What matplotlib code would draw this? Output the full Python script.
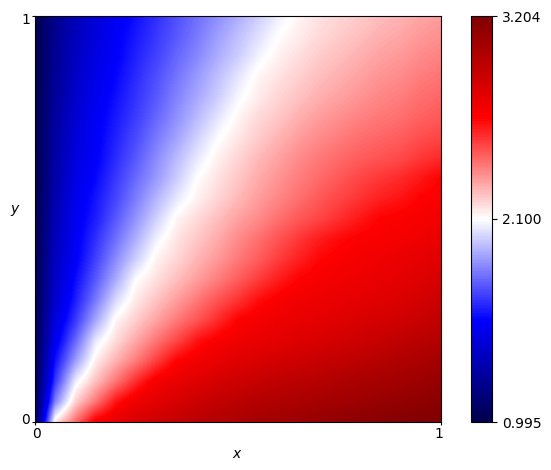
import numpy as np
import matplotlib
matplotlib.use("Agg")
import matplotlib.pyplot as plt
from matplotlib.colors import Normalize
from matplotlib.transforms import Affine2D

cbar_ticks = [0.995, 2.100, 3.204]
cbar_labels = ["0.995", "2.100", "3.204"]

# values at steps of 0.05, top row (y=1) to bottom row (y=0)
values = [
[1.00,1.20,1.33,1.43,1.51,1.58,1.65,1.72,1.79,1.85,1.92,1.99,2.06,2.12,2.16,2.19,2.21,2.24,2.26,2.29,2.31],
[1.00,1.21,1.34,1.44,1.53,1.60,1.67,1.74,1.81,1.89,1.96,2.03,2.10,2.14,2.18,2.21,2.24,2.27,2.29,2.32,2.34],
[1.00,1.22,1.36,1.46,1.54,1.62,1.69,1.77,1.84,1.92,1.99,2.07,2.13,2.17,2.21,2.24,2.27,2.30,2.32,2.35,2.37],
[1.00,1.23,1.37,1.48,1.56,1.64,1.72,1.80,1.88,1.96,2.04,2.12,2.16,2.20,2.24,2.27,2.30,2.33,2.35,2.38,2.40],
[1.00,1.24,1.39,1.50,1.58,1.66,1.74,1.83,1.91,1.99,2.08,2.14,2.19,2.23,2.27,2.30,2.33,2.36,2.38,2.41,2.43],
[1.00,1.25,1.41,1.52,1.60,1.68,1.77,1.86,1.95,2.04,2.12,2.18,2.22,2.27,2.31,2.34,2.37,2.39,2.41,2.44,2.46],
[1.00,1.26,1.43,1.53,1.62,1.71,1.81,1.90,2.00,2.09,2.15,2.21,2.26,2.31,2.35,2.38,2.41,2.43,2.45,2.48,2.50],
[1.00,1.27,1.45,1.54,1.64,1.74,1.85,1.95,2.05,2.13,2.19,2.25,2.30,2.35,2.39,2.42,2.45,2.47,2.49,2.53,2.56],
[1.00,1.28,1.47,1.56,1.67,1.78,1.88,1.99,2.10,2.16,2.22,2.28,2.33,2.38,2.42,2.46,2.50,2.53,2.56,2.60,2.65],
[1.00,1.30,1.49,1.59,1.70,1.82,1.94,2.05,2.13,2.19,2.25,2.31,2.36,2.41,2.46,2.50,2.54,2.58,2.61,2.65,2.67],
[1.00,1.32,1.51,1.61,1.74,1.87,2.00,2.12,2.18,2.24,2.30,2.35,2.41,2.46,2.50,2.55,2.60,2.65,2.66,2.68,2.70],
[1.00,1.34,1.52,1.65,1.79,1.93,2.07,2.16,2.22,2.28,2.35,2.41,2.47,2.53,2.59,2.63,2.66,2.67,2.69,2.71,2.74],
[1.00,1.36,1.53,1.69,1.85,2.00,2.13,2.19,2.26,2.32,2.39,2.45,2.52,2.58,2.64,2.67,2.69,2.71,2.73,2.75,2.78],
[1.00,1.38,1.57,1.74,1.92,2.10,2.17,2.24,2.31,2.38,2.45,2.52,2.59,2.65,2.68,2.70,2.72,2.74,2.76,2.79,2.82],
[1.00,1.40,1.61,1.81,2.02,2.15,2.23,2.31,2.39,2.47,2.54,2.62,2.67,2.70,2.72,2.74,2.76,2.78,2.80,2.83,2.87],
[1.00,1.45,1.67,1.91,2.12,2.21,2.30,2.39,2.47,2.56,2.65,2.69,2.72,2.74,2.76,2.78,2.81,2.83,2.85,2.88,2.92],
[1.00,1.50,1.77,2.05,2.18,2.29,2.40,2.50,2.61,2.67,2.71,2.74,2.76,2.79,2.81,2.84,2.86,2.89,2.92,2.95,2.98],
[1.00,1.58,1.89,2.14,2.27,2.39,2.52,2.65,2.70,2.74,2.78,2.81,2.84,2.86,2.89,2.91,2.94,2.96,2.99,3.01,3.04],
[1.00,1.67,2.06,2.24,2.40,2.56,2.69,2.74,2.78,2.83,2.86,2.89,2.92,2.94,2.96,2.99,3.01,3.03,3.05,3.07,3.10],
[1.00,1.83,2.20,2.40,2.61,2.72,2.77,2.82,2.87,2.91,2.94,2.97,2.99,3.01,3.03,3.05,3.07,3.09,3.11,3.13,3.15],
[1.00,2.15,2.42,2.68,2.76,2.82,2.87,2.91,2.95,2.98,3.01,3.04,3.06,3.08,3.11,3.13,3.15,3.17,3.18,3.19,3.204],
]

W, H = 551, 470
fig = plt.figure(figsize=(W / 100, H / 100), dpi=100)
ax = fig.add_axes([35.0 / W, 48.0 / H, 406 / W, 406 / H])
cax = fig.add_axes([471.0 / W, 48.0 / H, 21 / W, 406 / H])

norm = Normalize(vmin=cbar_ticks[0], vmax=cbar_ticks[-1])
half_step = 0.025
im = ax.imshow(np.array(values), cmap="seismic", norm=norm, aspect="auto", origin="upper",
               extent=[-half_step, 1 + half_step, -half_step, 1 + half_step],
               interpolation="bilinear", interpolation_stage="data")
ax.set_xlim(0, 1)
ax.set_ylim(0, 1)
ax.set_xticks([0, 1])
ax.set_xticklabels(["0", "1"])
ax.set_yticks([0, 1])
ax.set_yticklabels(["0", "1"])
ax.tick_params(axis="both", length=2, pad=1.5, labelsize=10)
ax.set_xlabel("$x$", fontsize=10)
ax.set_ylabel("$y$", fontsize=10, rotation=0, va="center")
ax.xaxis.set_label_coords(0.4975, -0.062)
ax.yaxis.set_label_coords(-0.049, 0.522)

for lab, dx in zip(ax.get_xticklabels(), [1.5, -2.5]):
    lab.set_transform(lab.get_transform() + Affine2D().translate(dx, 0))
for lab, dy in zip(ax.get_yticklabels(), [3, -3]):
    lab.set_transform(lab.get_transform() + Affine2D().translate(0, dy))

cb = fig.colorbar(im, cax=cax)
cb.set_ticks(cbar_ticks)
cb.set_ticklabels(cbar_labels)
cb.ax.tick_params(labelsize=10, length=3.5, pad=3.5)

fig.savefig("out.png", dpi=100)
